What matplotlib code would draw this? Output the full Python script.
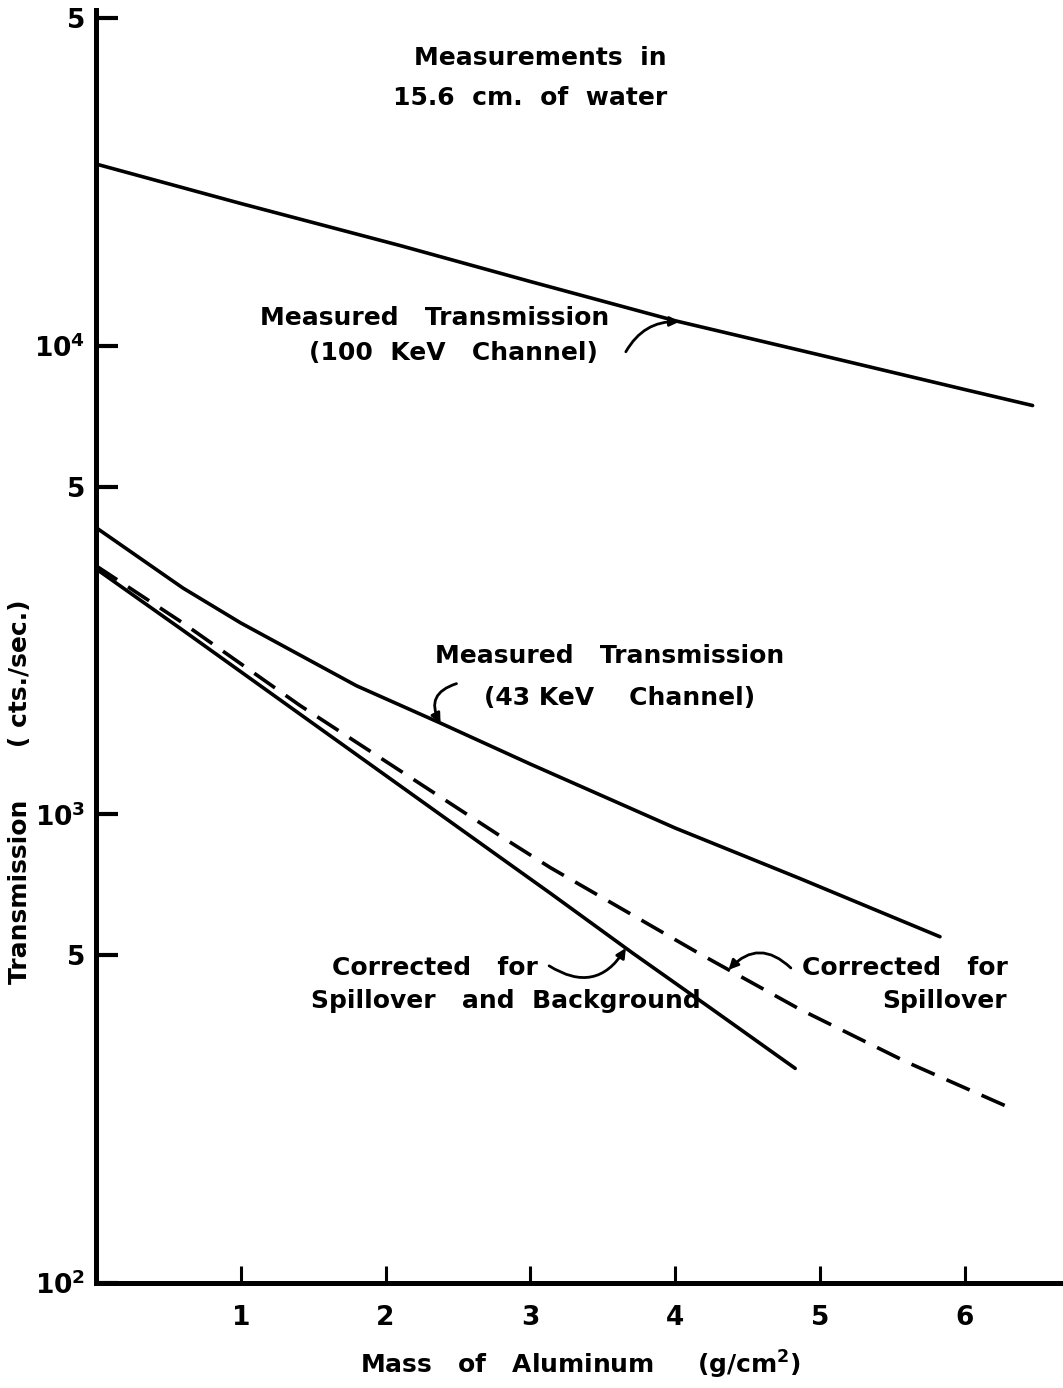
import numpy as np
import matplotlib
matplotlib.use("Agg")
import matplotlib.pyplot as plt

# ---- data ----
x_100 = [0.0, 1.0, 2.1, 3.0, 4.0, 5.0, 6.0, 6.47]
y_100 = [24400, 20100, 16350, 13700, 11300, 9550, 8060, 7450]

x_43 = [0.0, 0.6, 1.0, 1.8, 2.38, 3.0, 4.0, 4.86, 5.83]
y_43 = [4090, 3040, 2560, 1880, 1565, 1280, 935, 730, 548]

x_spill = [0.0, 0.6, 1.41, 2.79, 3.14, 4.17, 4.86, 5.6, 6.28]
y_spill = [3390, 2560, 1706, 900, 769, 504, 384, 296, 239]

x_spbg = [0.0, 0.6, 1.41, 2.79, 3.14, 3.71, 4.24, 4.83]
y_spbg = [3340, 2470, 1635, 810, 678, 505, 387, 287]

y_ticks = [100, 500, 1000, 5000, 10000, 50000]
y_ticklabels = ['$10^2$', '5', '$10^3$', '5', '$10^4$', '5']
x_ticks = [1, 2, 3, 4, 5, 6]
x_ticklabels = ['1', '2', '3', '4', '5', '6']

plt.rcParams['font.family'] = ['DejaVu Sans']
plt.rcParams['font.weight'] = 'bold'

fig = plt.figure(figsize=(10.63, 13.88), dpi=100)
ax = fig.add_axes([96/1063, 1-1283/1388, 1-96/1063, (1283-10)/1388])
ax.set_yscale('log')
ax.set_xlim(0, 6.68)
ax.set_ylim(100, 52000)

lw = 2.6
ax.plot(x_100, y_100, color='black', lw=lw, solid_capstyle='round')
ax.plot(x_43, y_43, color='black', lw=lw, solid_capstyle='round')
ax.plot(x_spbg, y_spbg, color='black', lw=lw, solid_capstyle='round')
ax.plot(x_spill, y_spill, color='black', lw=lw, linestyle=(0, (7, 3.6)))

for s in ['top', 'right']:
    ax.spines[s].set_visible(False)
for s in ['left', 'bottom']:
    ax.spines[s].set_linewidth(3.6)
    ax.spines[s].set_color('black')

ax.set_yticks(y_ticks)
ax.set_yticklabels(y_ticklabels)
ax.yaxis.set_minor_locator(matplotlib.ticker.NullLocator())
ax.set_xticks(x_ticks)
ax.set_xticklabels(x_ticklabels)
ax.tick_params(axis='y', direction='in', length=16, width=3, pad=8, labelsize=19)
ax.tick_params(axis='x', direction='in', length=12, width=2.2, pad=16, labelsize=19)
for lab in ax.get_yticklabels() + ax.get_xticklabels():
    lab.set_fontweight('bold')

fs = 18
txt = dict(fontsize=fs, fontweight='bold', ha='center', va='center')
ax.text(3.07, 41000, 'Measurements  in', **txt)
ax.text(3.0, 33800, '15.6  cm.  of  water', **txt)
ax.text(2.34, 11470, 'Measured   Transmission', **txt)
ax.text(2.47, 9620, '(100  KeV   Channel)', **txt)
ax.text(3.55, 2178, 'Measured   Transmission', **txt)
ax.text(3.62, 1774, '(43 KeV    Channel)', **txt)
ax.text(2.34, 470, 'Corrected   for', **txt)
ax.text(2.83, 400, 'Spillover   and  Background', **txt)
ax.text(5.59, 470, 'Corrected   for', **txt)
ax.text(5.86, 400, 'Spillover', **txt)


def on_curve(xs, ys, x):
    return 10 ** np.interp(x, xs, np.log10(ys))


arrow = dict(arrowstyle='-|>', color='black', lw=2.0, mutation_scale=14,
             shrinkA=0, shrinkB=0)
ax.annotate('', xy=(4.03, on_curve(x_100, y_100, 4.03)), xytext=(3.66, 9700),
            arrowprops=dict(connectionstyle='arc3,rad=-0.3', **arrow))
ax.annotate('', xy=(2.38, on_curve(x_43, y_43, 2.38)), xytext=(2.49, 1900),
            arrowprops=dict(connectionstyle='arc3,rad=0.6', **arrow))
ax.annotate('', xy=(3.66, on_curve(x_spbg, y_spbg, 3.66)), xytext=(3.13, 475),
            arrowprops=dict(connectionstyle='arc3,rad=0.5', **arrow))
ax.annotate('', xy=(4.37, on_curve(x_spill, y_spill, 4.37)), xytext=(4.80, 470),
            arrowprops=dict(connectionstyle='arc3,rad=0.5', **arrow))

fig.text(580/1063, 1-1365/1388, 'Mass   of   Aluminum     (g/cm$^{2}$)',
         fontsize=18, fontweight='bold', ha='center', va='center')
fig.text(20/1063, 1-792/1388, 'Transmission      ( cts./sec.)', rotation=90,
         fontsize=18, fontweight='bold', ha='center', va='center')

fig.savefig('out.png', dpi=100, facecolor='white')
